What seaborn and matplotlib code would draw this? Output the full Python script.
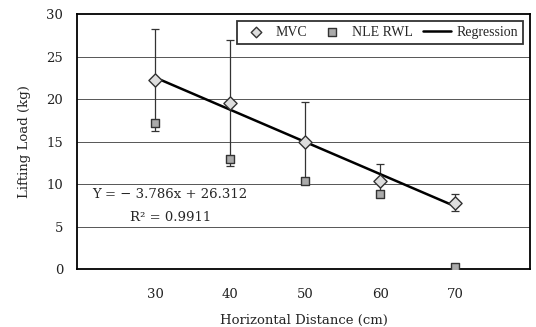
import pandas as pd
import seaborn as sns
import matplotlib.pyplot as plt

# values
distance_cm = [30, 40, 50, 60, 70]
mvc_load = [22.2, 19.5, 14.9, 10.4, 7.8]
mvc_err = [6.0, 7.4, 4.8, 1.9, 1.0]
nle_rwl = [17.2, 13.0, 10.3, 8.8, 0.2]
y_ticks = [0, 5, 10, 15, 20, 25, 30]
equation_text = "Y = \u2212 3.786x + 26.312"
r2_text = "R\u00b2 = 0.9911"

sns.set_style("white")
plt.rcParams['font.family'] = ['DejaVu Serif']

df = pd.DataFrame({'dist': distance_cm, 'mvc': mvc_load, 'err': mvc_err, 'nle': nle_rwl})

fig = plt.figure(figsize=(5.36, 3.27), dpi=100)
ax = fig.add_axes([0.1437, 0.1774, 0.8453, 0.7796])

for y in y_ticks[1:-1]:
    ax.axhline(y, color='#555555', lw=0.7, zorder=0)

# regression line through the MVC means
sns.regplot(data=df, x='dist', y='mvc', ci=None, scatter=False, ax=ax,
            line_kws={'color': 'black', 'lw': 1.8, 'zorder': 2}, label='Regression')

ax.errorbar(df['dist'], df['mvc'], yerr=df['err'], fmt='none', ecolor='#333333',
            elinewidth=0.9, capsize=3, capthick=0.9, zorder=1)

sns.scatterplot(data=df, x='dist', y='mvc', marker='D', s=45, color='#dddddd',
                edgecolor='#333333', linewidth=1.0, ax=ax, zorder=3, label='MVC')
sns.scatterplot(data=df, x='dist', y='nle', marker='s', s=40, color='#aaaaaa',
                edgecolor='#333333', linewidth=1.0, ax=ax, zorder=3, label='NLE RWL')

ax.set_xlim(19.6, 80)
ax.set_ylim(0, 30)
ax.set_xticks(distance_cm)
ax.set_yticks(y_ticks)
ax.tick_params(axis='x', direction='in', length=3, labelsize=9.5, pad=14, colors='#222222')
ax.tick_params(axis='y', length=0, labelsize=9.5, pad=10, colors='#222222')
for s in ax.spines.values():
    s.set_color('black')
    s.set_linewidth(1.3)

ax.set_xlabel('Horizontal Distance (cm)', fontsize=9.5, labelpad=9)
ax.set_ylabel('Lifting Load (kg)', fontsize=9.5, labelpad=11)

ax.text(21.6, 8.8, equation_text, fontsize=9.5, va='center')
ax.text(26.6, 6.1, r2_text, fontsize=9.5, va='center')

handles, labels = ax.get_legend_handles_labels()
order = [labels.index(n) for n in ['MVC', 'NLE RWL', 'Regression']]
leg = ax.legend([handles[i] for i in order], [labels[i] for i in order], ncol=3,
                loc='upper right', bbox_to_anchor=(0.985, 0.973), borderaxespad=0,
                prop={'family': 'Liberation Serif', 'size': 10},
                frameon=True, fancybox=False, edgecolor='#333333', framealpha=1,
                handlelength=2.0, columnspacing=0.8, handletextpad=0.4,
                borderpad=0.35, markerscale=0.8)
leg.get_frame().set_linewidth(1.3)

fig.savefig('out.png', dpi=100)
